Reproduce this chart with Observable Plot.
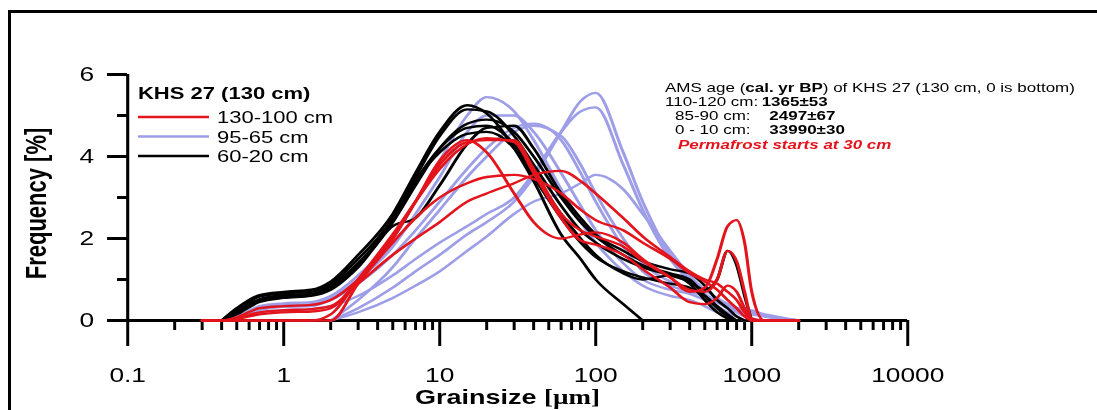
<!DOCTYPE html>
<html><head><meta charset="utf-8">
<script src="https://cdn.jsdelivr.net/npm/d3@7"></script>
<script src="https://cdn.jsdelivr.net/npm/@observablehq/plot@0.6"></script>
<style>
html,body{margin:0;padding:0;background:#fff;overflow:hidden;}
#page{position:relative;width:1097px;height:410px;overflow:hidden;background:#fff;}
#frame{position:absolute;left:8px;top:10px;width:1200px;height:500px;border-top:3px solid #000;border-left:3px solid #000;box-sizing:border-box;}
#stage{position:absolute;left:0;top:0;width:813px;height:410px;transform:scaleX(1.35);transform-origin:0 0;font-family:"Liberation Sans",Arial,sans-serif;}
#stage svg{position:absolute;left:0;top:0;overflow:visible;}
</style></head>
<body>
<div id="page"><div id="frame"></div><div id="stage"></div></div>
<script>
// grain size grid (µm)
const sizes = [0.3,0.4,0.5,0.7,1,1.5,2,3,5,7,10,15,20,30,40,60,80,100,150,200,300,400,500,600,700,800,900,1000,1200,2000];

// 60-20 cm (black)
const black1 = [null,0,0.3,0.62,0.7,0.75,0.95,1.6,2.6,3.6,4.6,5.25,5.05,4.2,3.4,2.1,1.5,1.0,0.4,0,null,null,null,null,null,null,null,null,null,null];
const black2 = [null,0,0.25,0.58,0.66,0.7,0.9,1.5,2.5,3.5,4.5,5.15,5.1,4.5,3.8,2.8,2.2,1.9,1.5,1.3,1.1,0.95,0.75,1.0,1.7,1.35,0.6,0,null,null];
const black3 = [null,0,0.2,0.52,0.62,0.65,0.85,1.4,2.4,3.3,4.2,4.8,4.9,4.6,4.0,3.0,2.4,2.05,1.6,1.35,1.15,1.0,0.6,0.3,0.1,0,null,null,null,null];
const black4 = [null,0,0.2,0.5,0.6,0.63,0.8,1.35,2.4,3.4,4.2,4.7,4.75,4.3,3.6,2.6,2.0,1.6,1.15,1.0,1.1,0.9,0.5,0.2,0.05,0,null,null,null,null];
const black5 = [null,0,0.15,0.45,0.55,0.6,0.75,1.3,2.3,2.5,3.3,4.3,4.7,4.75,4.2,3.1,2.5,2.1,1.7,1.45,1.25,1.15,0.85,0.5,0.3,0.1,0,null,null,null];
const black6 = [null,0,0.18,0.48,0.58,0.62,0.8,1.35,2.45,3.4,4.1,4.55,4.6,4.2,3.5,2.5,1.9,1.55,1.2,1.05,0.9,0.8,0.6,0.35,0.15,0,null,null,null,null];

// 95-65 cm (blue)
const blue1 = [null,0,0.1,0.35,0.42,0.45,0.6,1.1,2.0,2.9,3.9,5.0,5.45,5.1,4.4,3.2,2.4,1.9,1.2,0.85,0.6,0.5,0.35,0.2,0.08,0,null,null,null,null];
const blue2 = [null,0,0.08,0.3,0.38,0.4,0.55,1.0,1.8,2.6,3.5,4.6,5.0,5.0,4.6,3.6,2.8,2.2,1.4,1.0,0.75,0.65,0.5,0.35,0.2,0.1,0,null,null,null];
const blue3 = [null,0,0.05,0.25,0.33,0.35,0.5,0.9,1.6,2.2,2.9,3.7,4.2,4.7,4.8,4.4,3.6,2.9,1.8,1.2,0.85,0.7,0.6,0.5,0.4,0.3,0.25,0.2,0.1,0];
const blue4 = [null,null,null,null,null,null,0,0.5,1.3,2.0,2.7,3.5,4.0,4.6,4.75,4.5,3.8,3.1,2.0,1.4,0.95,0.75,0.6,0.45,0.3,0.2,0.1,0.05,0,null];
const blue5 = [null,null,null,null,null,null,0,0.3,0.8,1.2,1.6,2.1,2.4,2.9,3.5,4.6,5.35,5.55,4.1,2.9,1.6,1.0,0.65,0.45,0.32,0.25,0.2,0.15,0.1,0];
const blue6 = [null,0,0.05,0.2,0.25,0.28,0.35,0.6,1.1,1.5,1.9,2.3,2.6,3.0,3.6,4.6,5.1,5.2,3.8,2.7,1.5,0.95,0.6,0.45,0.35,0.3,0.25,0.2,0.15,0];
const blue7 = [null,null,null,null,null,null,0,0.2,0.55,0.85,1.2,1.7,2.05,2.6,2.9,3.1,3.35,3.55,3.2,2.6,1.7,1.1,0.75,0.55,0.4,0.3,0.28,0.25,0.15,0];

// 130-100 cm (red)
const red1 = [0,0,0.08,0.3,0.35,0.38,0.5,1.0,2.0,2.9,3.9,4.4,4.1,3.1,2.4,2.0,2.1,2.15,1.9,1.5,1.05,0.7,0.8,1.5,2.3,2.45,1.9,0.7,0,0];
const red2 = [0,0,0.04,0.15,0.2,0.22,0.3,1.0,2.0,2.9,3.8,4.35,4.4,4.4,3.7,2.6,2.2,2.05,1.8,1.45,1.05,0.75,0.7,1.0,1.7,1.45,0.7,0.05,0,0];
const red3 = [0,0,0,0,0,0,0.15,1.0,2.1,2.9,3.7,4.3,4.45,4.35,3.6,2.5,1.95,1.85,1.6,1.25,0.8,0.45,0.4,0.55,0.85,0.7,0.3,0,0,0];
const red4 = [0,0,0.06,0.2,0.25,0.28,0.35,0.9,1.6,2.0,2.4,2.9,3.1,3.35,3.55,3.65,3.4,3.1,2.5,2.05,1.55,1.2,1.0,0.9,0.7,0.5,0.2,0,0,0];
const red5 = [0,0,0,0,0,0,0,0.9,1.9,2.5,3.0,3.35,3.5,3.55,3.45,3.1,2.7,2.45,2.2,1.9,1.5,1.15,0.95,0.75,0.5,0.3,0.1,0,0,0];

// tick values and labels
const xMajor = [0.1,1,10,100,1000,10000];
const xMinor = [2,3,4,5,6,7,8,9].flatMap(m => [0.1,1,10,100,1000].map(d => m*d));
const yMajor = [0,2,4,6];
const yMinor = [1,3,5];

const groups = ["130-100 cm","95-65 cm","60-20 cm"];
const colors = ["#e3141c","#9d9de8","#000000"];
const legendTitle = "KHS 27 (130 cm)";
const noteLines = [
  ["AMS age (", "cal. yr BP", ") of KHS 27 (130 cm, 0 is bottom)"],
];
const ageDepths = ["110-120 cm:", "85-90 cm:", "0 - 10 cm:"];
const ageValues = ["1365±53", "2497±67", "33990±30"];
const permafrost = "Permafrost starts at 30 cm";

const seriesDefs = [
  ["blue1",blue1,1],["blue2",blue2,1],["blue3",blue3,1],["blue4",blue4,1],["blue5",blue5,1],["blue6",blue6,1],["blue7",blue7,1],
  ["black1",black1,2],["black2",black2,2],["black3",black3,2],["black4",black4,2],["black5",black5,2],["black6",black6,2],
  ["red1",red1,0],["red2",red2,0],["red3",red3,0],["red4",red4,0],["red5",red5,0]
];
const rows = [];
for (const [id, vals, g] of seriesDefs) {
  vals.forEach((v, i) => { if (v != null) rows.push({id, group: g, size: sizes[i], freq: v}); });
}

const W = 813, H = 410;
const chart = Plot.plot({
  width: W, height: H,
  marginLeft: 94.1, marginRight: 141.1, marginTop: 74, marginBottom: 90,
  x: {type: "log", domain: [0.1, 10000]},
  y: {domain: [0, 6]},
  style: {fontFamily: '"Liberation Sans", Arial, sans-serif', fontSize: "19px", color: "#000", background: "transparent", overflow: "visible"},
  marks: [
    Plot.ruleY([0], {strokeWidth: 3}),
    Plot.ruleX([0.1], {y1: 0, y2: 6, strokeWidth: 2.3}),
    Plot.axisX({ticks: xMajor, tickSize: 26, tickPadding: 21.5, strokeWidth: 2.2, tickFormat: d => String(d), fontSize: 19.5, label: null}),
    Plot.axisX({ticks: xMinor, tickSize: 10, strokeWidth: 2.2, tickFormat: () => "", label: null}),
    Plot.axisY({ticks: yMajor, tickSize: 14.8, tickPadding: 10, strokeWidth: 3, tickFormat: d => String(d), fontSize: 19.5, label: null}),
    Plot.axisY({ticks: yMinor, tickSize: 7.4, strokeWidth: 3, tickFormat: () => "", label: null}),
    Plot.line(rows.filter(d => d.group === 1), {x: "size", y: "freq", z: "id", stroke: colors[1], strokeWidth: 2.3, curve: "monotone-x"}),
    Plot.line(rows.filter(d => d.group === 2), {x: "size", y: "freq", z: "id", stroke: colors[2], strokeWidth: 2.3, curve: "monotone-x"}),
    Plot.line(rows.filter(d => d.group === 0), {x: "size", y: "freq", z: "id", stroke: colors[0], strokeWidth: 2.3, curve: "monotone-x"})
  ]
});
document.getElementById("stage").appendChild(chart);

// overlay: legend, annotation, axis titles
const ov = d3.select("#stage").append("svg").attr("width", W).attr("height", H)
  .style("font-family", '"Liberation Sans", Arial, sans-serif');

ov.append("text").attr("x", 102.2).attr("y", 99).attr("font-size", 16.3).attr("font-weight", "bold").text(legendTitle);
const legY = [117, 136.5, 156];
groups.forEach((g, i) => {
  ov.append("line").attr("x1", 102.2).attr("x2", 154.8).attr("y1", legY[i]).attr("y2", legY[i])
    .attr("stroke", colors[i]).attr("stroke-width", 2.4);
  ov.append("text").attr("x", 160.7).attr("y", legY[i] + 6.2).attr("font-size", 16.3).text(g);
});

const fsN = 12.6;
const t0 = ov.append("text").attr("x", 492.6).attr("y", 92.5).attr("font-size", fsN);
t0.append("tspan").text(noteLines[0][0]);
t0.append("tspan").attr("font-weight", "bold").text(noteLines[0][1]);
t0.append("tspan").text(noteLines[0][2]);
const depX = [492.6, 500, 500];
const valX = [564.2, 569.9, 569.9];
ageDepths.forEach((d, i) => {
  const y = 106.5 + i * 14;
  ov.append("text").attr("x", depX[i]).attr("y", y).attr("font-size", fsN).text(d);
  ov.append("text").attr("x", valX[i]).attr("y", y).attr("font-size", fsN).attr("font-weight", "bold").text(ageValues[i]);
});
ov.append("text").attr("x", 502.2).attr("y", 149.5).attr("font-size", fsN).attr("font-weight", "bold")
  .attr("font-style", "italic").attr("fill", colors[0]).text(permafrost);

ov.append("text").attr("transform", "translate(34,203.5) rotate(-90)").attr("text-anchor", "middle")
  .attr("font-size", 22).attr("font-weight", "bold").text("Frequency [%]");
const xt = ov.append("text").attr("x", 307.4).attr("y", 404).attr("font-size", 20).attr("font-weight", "bold");
xt.append("tspan").text("Grainsize ");
xt.append("tspan").attr("font-family", '"Liberation Serif", "DejaVu Serif", serif').text("[µm]");
</script>
</body></html>
